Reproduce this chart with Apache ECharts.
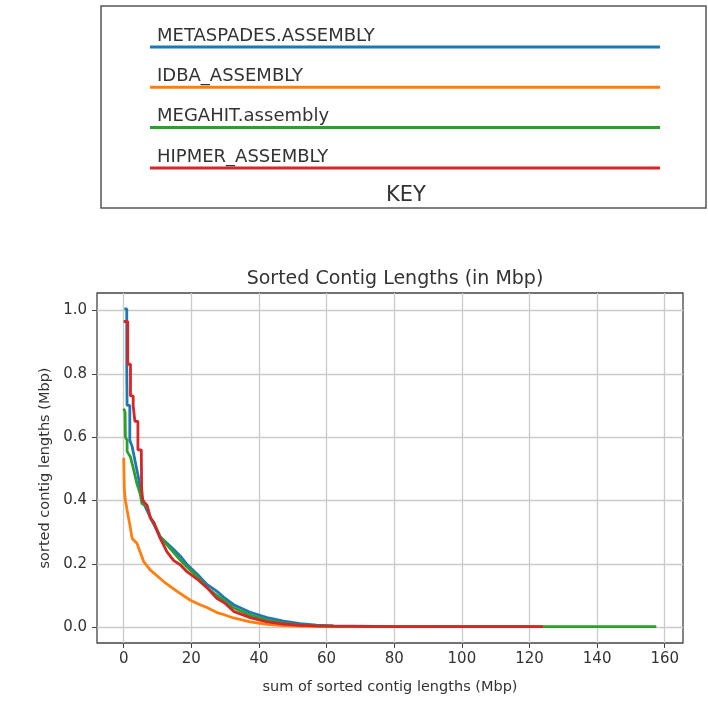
<!DOCTYPE html>
<html>
<head>
<meta charset="utf-8">
<script src="https://cdn.jsdelivr.net/npm/echarts@6/dist/echarts.min.js"></script>
<style>
  html, body { margin: 0; padding: 0; background: #fff; }
  #main { width: 708px; height: 710px; }
</style>
</head>
<body>
<div id="main"></div>
<script>
// assemblies, in plot order (last one drawn on top)
var assemblyNames = ['METASPADES.ASSEMBLY', 'IDBA_ASSEMBLY', 'MEGAHIT.assembly', 'HIPMER_ASSEMBLY'];
var assemblyColors = ['#1f77b4', '#ff7f0e', '#2ca02c', '#d62728'];

// cumulative length (Mbp) vs contig length (Mbp)
var metaspadesX = [0.2, 0.9, 0.9, 1.0, 1.0, 1.8, 1.8, 2.5, 3.45, 4.4, 5.1, 6.4, 8.4, 10.8, 12.8, 14.8, 16.7, 18.7, 21.7, 24.6, 27.6, 29.5, 32.5, 37.4, 42.4, 47.3, 52.2, 57, 62, 80, 120];
var metaspadesY = [1.005, 1.005, 0.82, 0.82, 0.70, 0.70, 0.59, 0.57, 0.52, 0.47, 0.42, 0.38, 0.335, 0.285, 0.265, 0.245, 0.225, 0.198, 0.168, 0.135, 0.113, 0.095, 0.071, 0.047, 0.030, 0.019, 0.011, 0.006, 0.004, 0.002, 0.002];

var idbaX = [0, 0.2, 0.2, 0.5, 1.0, 1.7, 2.5, 3.9, 5.9, 7.9, 11.8, 15.8, 19.7, 22.6, 24.6, 27.6, 29.5, 32.5, 37.4, 42.4, 47, 52, 60, 90];
var idbaY = [0.535, 0.535, 0.43, 0.40, 0.37, 0.33, 0.28, 0.265, 0.207, 0.18, 0.144, 0.113, 0.085, 0.071, 0.062, 0.046, 0.040, 0.029, 0.017, 0.009, 0.005, 0.003, 0.002, 0.002];

var megahitX = [0, 0.4, 0.5, 1.0, 1.0, 2.0, 3.0, 3.9, 4.9, 5.4, 6.9, 7.9, 8.9, 10.8, 12.8, 16.7, 18.7, 21.7, 24.6, 27.6, 32.5, 37.4, 42.4, 47.3, 52.2, 57, 62, 80, 110, 140, 157.5];
var megahitY = [0.69, 0.68, 0.60, 0.59, 0.555, 0.537, 0.495, 0.453, 0.42, 0.39, 0.38, 0.345, 0.33, 0.285, 0.26, 0.212, 0.19, 0.16, 0.125, 0.10, 0.061, 0.038, 0.022, 0.013, 0.007, 0.004, 0.003, 0.002, 0.002, 0.002, 0.002];

var hipmerX = [0, 1.2, 1.2, 2.0, 2.0, 2.8, 2.8, 3.3, 3.3, 4.2, 4.2, 5.2, 5.3, 5.6, 6.9, 7.9, 8.9, 10.8, 12.8, 14.8, 16.7, 18.7, 21.7, 24.6, 27.6, 30, 32.5, 37.4, 42.4, 47.3, 52, 57, 62, 80, 124];
var hipmerY = [0.965, 0.965, 0.83, 0.83, 0.73, 0.73, 0.70, 0.70, 0.65, 0.65, 0.56, 0.56, 0.44, 0.40, 0.385, 0.345, 0.33, 0.28, 0.238, 0.21, 0.197, 0.175, 0.152, 0.125, 0.09, 0.075, 0.05, 0.03, 0.017, 0.01, 0.006, 0.004, 0.003, 0.002, 0.002];

var xTicks = [0, 20, 40, 60, 80, 100, 120, 140, 160];
var yTicks = [0, 0.2, 0.4, 0.6, 0.8, 1.0];

var fontName = 'DejaVu Sans';
var textColor = '#333';

function pairs(xs, ys) {
    var out = [];
    for (var i = 0; i < xs.length; i++) {
        out.push([xs[i], ys[i]]);
    }
    return out;
}

function buildKey() {
    var items = [];
    items.push({
        type: 'rect',
        shape: {x: 101, y: 6, width: 605, height: 202},
        style: {fill: '#fff', stroke: '#555', lineWidth: 1.5}
    });
    for (var i = 0; i < assemblyNames.length; i++) {
        var ly = 47 + i * 40.3;
        items.push({
            type: 'line',
            shape: {x1: 150, y1: ly, x2: 660, y2: ly},
            style: {stroke: assemblyColors[i], lineWidth: 3}
        });
        items.push({
            type: 'text',
            x: 157, y: ly - 2,
            style: {text: assemblyNames[i], fill: textColor, font: '18px "' + fontName + '"', textVerticalAlign: 'bottom'}
        });
    }
    items.push({
        type: 'text',
        x: 406, y: 196,
        style: {text: 'KEY', fill: textColor, font: '21px "' + fontName + '"', textAlign: 'center', textVerticalAlign: 'middle'}
    });
    return items;
}

var allX = [metaspadesX, idbaX, megahitX, hipmerX];
var allY = [metaspadesY, idbaY, megahitY, hipmerY];

var series = [];
for (var k = 0; k < assemblyNames.length; k++) {
    series.push({
        name: assemblyNames[k],
        type: 'line',
        data: pairs(allX[k], allY[k]),
        showSymbol: false,
        symbol: 'none',
        lineStyle: {color: assemblyColors[k], width: 2.8},
        itemStyle: {color: assemblyColors[k]}
    });
}

var myChart = echarts.init(document.getElementById('main'));
var option = {
    animation: false,
    backgroundColor: '#fff',
    textStyle: {fontFamily: fontName},
    title: {
        text: 'Sorted Contig Lengths (in Mbp)',
        left: 390,
        top: 265,
        textAlign: 'center',
        textStyle: {fontFamily: fontName, fontSize: 19, fontWeight: 'normal', color: textColor}
    },
    graphic: buildKey(),
    grid: {
        left: 97, right: 25, top: 293, bottom: 67,
        show: true, borderColor: '#444', borderWidth: 1.3, backgroundColor: 'transparent'
    },
    xAxis: {
        type: 'value',
        min: -7.9,
        max: 165.4,
        name: 'sum of sorted contig lengths (Mbp)',
        nameLocation: 'middle',
        nameGap: 37,
        nameTextStyle: {fontFamily: fontName, fontSize: 14.5, color: textColor},
        axisLine: {show: false, onZero: false},
        axisTick: {show: true, customValues: xTicks, length: 5, lineStyle: {color: '#444'}},
        axisLabel: {customValues: xTicks, margin: 9, fontFamily: fontName, fontSize: 15, color: textColor,
            formatter: function (v) { return String(Math.round(v)); }},
        splitLine: {show: true, lineStyle: {color: '#cbcbcb', width: 1.3}}
    },
    yAxis: {
        type: 'value',
        min: -0.05,
        max: 1.055,
        name: 'sorted contig lengths (Mbp)',
        nameLocation: 'middle',
        nameGap: 43,
        nameTextStyle: {fontFamily: fontName, fontSize: 14.5, color: textColor},
        axisLine: {show: false, onZero: false},
        axisTick: {show: true, customValues: yTicks, length: 5, lineStyle: {color: '#444'}},
        axisLabel: {customValues: yTicks, margin: 10, fontFamily: fontName, fontSize: 15, color: textColor,
            formatter: function (v) { return v.toFixed(1); }},
        splitLine: {show: true, lineStyle: {color: '#cbcbcb', width: 1.3}}
    },
    series: series
};
myChart.setOption(option);
</script>
</body>
</html>
